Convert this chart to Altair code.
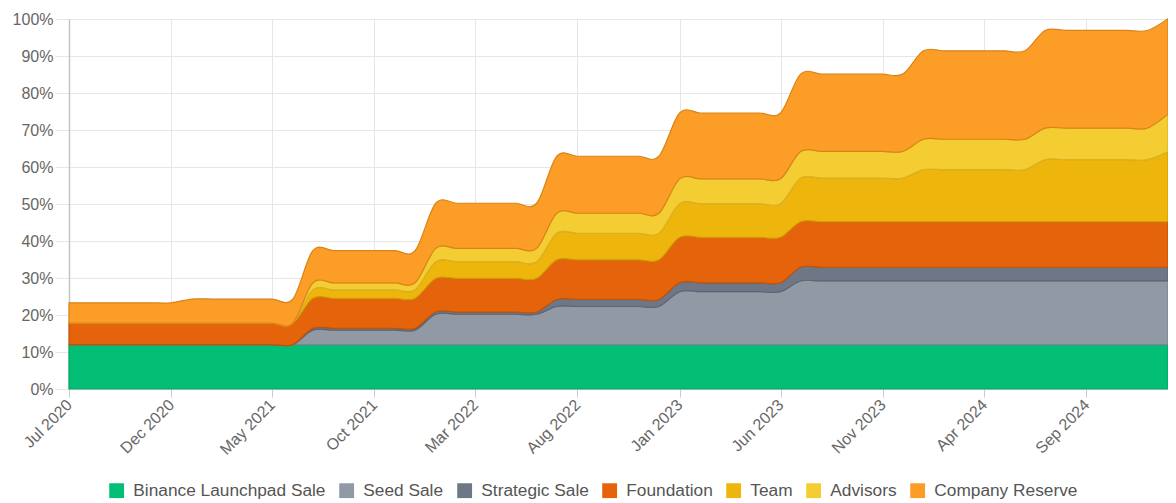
import altair as alt
import pandas as pd

# Monthly points, Jul 2020 .. Jan 2025 (55 months)
months = pd.date_range("2020-07-01", periods=55, freq="MS").strftime("%Y-%m-%d").tolist()

series_names = ["Binance Launchpad Sale", "Seed Sale", "Strategic Sale", "Foundation",
                "Team", "Advisors", "Company Reserve"]
fill_colors = ["#02bf75", "#9199a4", "#6e7786", "#e4630b", "#eeb60c", "#f4cd32", "#fb9d27"]
stroke_colors = ["#0b9f62", "#7e8691", "#5c6573", "#c25307", "#cf9c08", "#d9b326", "#d98418"]

binance = [12, 12, 12, 12, 12, 12, 12, 12, 12, 12, 12, 12,
           12, 12, 12, 12, 12, 12, 12, 12, 12, 12, 12, 12,
           12, 12, 12, 12, 12, 12, 12, 12, 12, 12, 12, 12,
           12, 12, 12, 12, 12, 12, 12, 12, 12, 12, 12, 12,
           12, 12, 12, 12, 12, 12, 12]
seed = [0, 0, 0, 0, 0, 0, 0, 0, 0, 0, 0, 0,
        3.9, 3.9, 3.9, 3.9, 3.9, 3.9, 8.2, 8.2, 8.2, 8.2, 8.2, 8.2,
        10.3, 10.3, 10.3, 10.3, 10.3, 10.3, 14.3, 14.3, 14.3, 14.3, 14.3, 14.3,
        17.2, 17.2, 17.2, 17.2, 17.2, 17.2, 17.2, 17.2, 17.2, 17.2, 17.2, 17.2,
        17.2, 17.2, 17.2, 17.2, 17.2, 17.2, 17.2]
strategic = [0, 0, 0, 0, 0, 0, 0, 0, 0, 0, 0, 0,
             0.5, 0.5, 0.5, 0.5, 0.5, 0.5, 0.6, 0.6, 0.6, 0.6, 0.6, 0.6,
             1.9, 1.9, 1.9, 1.9, 1.9, 1.9, 2.4, 2.4, 2.4, 2.4, 2.4, 2.4,
             3.7, 3.7, 3.7, 3.7, 3.7, 3.7, 3.7, 3.7, 3.7, 3.7, 3.7, 3.7,
             3.7, 3.7, 3.7, 3.7, 3.7, 3.7, 3.7]
foundation = [5.8, 5.8, 5.8, 5.8, 5.8, 5.8, 5.8, 5.8, 5.8, 5.8, 5.8, 5.8,
              8.1, 8.1, 8.1, 8.1, 8.1, 8.1, 9.1, 9.1, 9.1, 9.1, 9.1, 9.1,
              10.7, 10.7, 10.7, 10.7, 10.7, 10.7, 12.3, 12.3, 12.3, 12.3, 12.3, 12.3,
              12.3, 12.3, 12.3, 12.3, 12.3, 12.3, 12.3, 12.3, 12.3, 12.3, 12.3, 12.3,
              12.3, 12.3, 12.3, 12.3, 12.3, 12.3, 12.3]
team = [0, 0, 0, 0, 0, 0, 0, 0, 0, 0, 0, 0,
        2.3, 2.3, 2.3, 2.3, 2.3, 2.3, 4.5, 4.5, 4.5, 4.5, 4.5, 4.5,
        7.2, 7.2, 7.2, 7.2, 7.2, 7.2, 9.1, 9.1, 9.1, 9.1, 9.1, 9.1,
        11.8, 11.8, 11.8, 11.8, 11.8, 11.8, 14.1, 14.1, 14.1, 14.1, 14.1, 14.1,
        16.8, 16.8, 16.8, 16.8, 16.8, 16.8, 18.9]
advisors = [0, 0, 0, 0, 0, 0, 0, 0, 0, 0, 0, 0,
            1.9, 1.9, 1.9, 1.9, 1.9, 1.9, 3.6, 3.6, 3.6, 3.6, 3.6, 3.6,
            5.4, 5.4, 5.4, 5.4, 5.4, 5.4, 6.7, 6.7, 6.7, 6.7, 6.7, 6.7,
            7.2, 7.2, 7.2, 7.2, 7.2, 7.2, 8.2, 8.2, 8.2, 8.2, 8.2, 8.2,
            8.5, 8.5, 8.5, 8.5, 8.5, 8.5, 10.2]
company = [5.5, 5.5, 5.5, 5.5, 5.5, 5.5, 6.5, 6.5, 6.5, 6.5, 6.5, 6.5,
           8.7, 8.7, 8.7, 8.7, 8.7, 8.7, 12.2, 12.2, 12.2, 12.2, 12.2, 12.2,
           15.4, 15.4, 15.4, 15.4, 15.4, 15.4, 17.8, 17.8, 17.8, 17.8, 17.8, 17.8,
           20.9, 20.9, 20.9, 20.9, 20.9, 20.9, 23.9, 23.9, 23.9, 23.9, 23.9, 23.9,
           26.4, 26.4, 26.4, 26.4, 26.4, 26.4, 25.8]

all_series = [binance, seed, strategic, foundation, team, advisors, company]

tick_dates = [(2020, 7), (2020, 12), (2021, 5), (2021, 10), (2022, 3), (2022, 8),
              (2023, 1), (2023, 6), (2023, 11), (2024, 4), (2024, 9)]
y_ticks = [0, 10, 20, 30, 40, 50, 60, 70, 80, 90, 100]

rows = []
for i, (name, vals) in enumerate(zip(series_names, all_series)):
    for m, v in zip(months, vals):
        rows.append({"month": m, "series": name, "value": v, "idx": i})
df = pd.DataFrame(rows)

FONT = "Liberation Sans"

chart = alt.Chart(df).mark_area(interpolate="cardinal", strokeWidth=1.2).encode(
    x=alt.X("month:T",
            scale=alt.Scale(type="utc", nice=False),
            axis=alt.Axis(values=[alt.DateTime(year=y, month=m, date=1, utc=True) for y, m in tick_dates],
                          labelExpr="utcFormat(datum.value, '%b %Y')", labelAngle=-45,
                          labelAlign="right", labelBaseline="middle",
                          labelFontSize=16, labelColor="#666666", labelFont=FONT,
                          tickSize=8, tickColor="#cccccc", domain=False,
                          grid=True, gridColor="#e6e6e6", labelPadding=5),
            title=None),
    y=alt.Y("value:Q", stack="zero",
            scale=alt.Scale(domain=[0, 100], nice=False),
            axis=alt.Axis(values=y_ticks, labelExpr="datum.value + '%'",
                          labelFontSize=16, labelColor="#666666", labelFont=FONT,
                          tickSize=14, tickColor="#e6e6e6", labelPadding=2,
                          domain=True, domainColor="#c4c4c4", domainWidth=1.5,
                          grid=True, gridColor="#e6e6e6"),
            title=None),
    color=alt.Color("series:N",
                    scale=alt.Scale(domain=series_names, range=fill_colors),
                    legend=alt.Legend(title=None, orient="none", direction="horizontal",
                                      columns=7, legendX=39, legendY=463,
                                      symbolType="square", symbolSize=220,
                                      symbolStrokeWidth=0, labelFontSize=17.3,
                                      labelFont=FONT, labelColor="#555555",
                                      labelOffset=8, columnPadding=12, labelLimit=0)),
    stroke=alt.Stroke("series:N",
                      scale=alt.Scale(domain=series_names, range=stroke_colors),
                      legend=None),
    order=alt.Order("idx:Q", sort="ascending"),
).properties(
    width=1099,
    height=370,
    autosize=alt.AutoSizeParams(type="none"),
    padding={"left": 61, "top": 11, "right": 0, "bottom": 113},
).configure_view(stroke=None)

chart.save("out.html", embed_options={"renderer": "svg", "actions": False})
